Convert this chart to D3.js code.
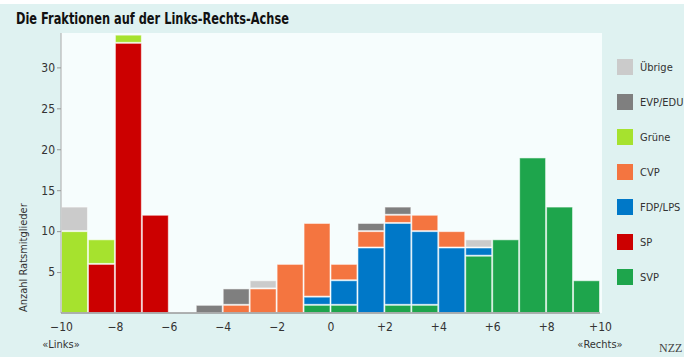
<!DOCTYPE html>
<html><head><meta charset="utf-8">
<script src="https://cdn.jsdelivr.net/npm/d3@7"></script>
<style>
body{margin:0;background:#fff;}
svg{display:block;}
text{font-family:"Liberation Sans Narrow","DejaVu Sans Condensed","Roboto",sans-serif;}
</style></head><body>
<svg id="c" width="684" height="357"></svg>
<script>
const bins = [-10,-9,-8,-7,-6,-5,-4,-3,-2,-1,0,1,2,3,4,5,6,7,8,9];
const parties = ["SVP","SP","FDP/LPS","CVP","Grüne","EVP/EDU","Übrige"];
const legendOrder = ["Übrige","EVP/EDU","Grüne","CVP","FDP/LPS","SP","SVP"];
const colors = ["#1ea54c","#cc0000","#0078c8","#f47540","#a6e22e","#7f7f7f","#cbcbcb"];
const svp    = [0,0,0,0,0,0,0,0,0,1,1,0,1,1,0,7,9,19,13,4];
const sp     = [0,6,33,12,0,0,0,0,0,0,0,0,0,0,0,0,0,0,0,0];
const fdp    = [0,0,0,0,0,0,0,0,0,1,3,8,10,9,8,1,0,0,0,0];
const cvp    = [0,0,0,0,0,0,1,3,6,9,2,2,1,2,2,0,0,0,0,0];
const gruene = [10,3,1,0,0,0,0,0,0,0,0,0,0,0,0,0,0,0,0,0];
const evp    = [0,0,0,0,0,1,2,0,0,0,0,1,1,0,0,0,0,0,0,0];
const uebrige= [3,0,0,0,0,0,0,1,0,0,0,0,0,0,0,1,0,0,0,0];
const seriesValues = [svp,sp,fdp,cvp,gruene,evp,uebrige];
const xTicks = [-10,-8,-6,-4,-2,0,2,4,6,8,10];
const yTicks = [5,10,15,20,25,30];
const title = "Die Fraktionen auf der Links-Rechts-Achse";
const yTitle = "Anzahl Ratsmitglieder";

const svg = d3.select("#c");
svg.append("rect").attr("width",684).attr("height",357).attr("fill","#dff2f1");
svg.append("rect").attr("x",0).attr("y",0).attr("width",684).attr("height",4).attr("fill","#fff");

const x = d3.scaleLinear().domain([-10,10]).range([61,600]);
const y = d3.scaleLinear().domain([0,34.2]).range([313,33]);

svg.append("rect").attr("x",61).attr("y",33).attr("width",541).attr("height",280).attr("fill","#f6fdfd");

svg.append("text").attr("x",16).attr("y",24).attr("font-size",15.5).attr("font-weight","bold")
  .attr("textLength",273).attr("lengthAdjust","spacingAndGlyphs")
  .attr("fill","#111").text(title);

const table = bins.map((b,i)=>{const o={bin:b}; parties.forEach((p,k)=>o[p]=seriesValues[k][i]); return o;});
const stack = d3.stack().keys(parties)(table);
const color = d3.scaleOrdinal().domain(parties).range(colors);

svg.append("g").selectAll("g").data(stack).join("g").attr("fill",d=>color(d.key))
  .selectAll("rect").data(d=>d.filter(e=>e[1]-e[0]>0)).join("rect")
  .attr("x",d=>x(d.data.bin)+0.5).attr("width",d=>x(d.data.bin+1)-x(d.data.bin)-1)
  .attr("y",d=>y(d[1])+0.5).attr("height",d=>y(d[0])-y(d[1])-1)
  .attr("stroke","rgba(255,255,255,0.55)").attr("stroke-width",1);

// y axis
const ya = svg.append("g").attr("transform","translate(61,0)")
  .call(d3.axisLeft(y).tickValues(yTicks).tickSize(4).tickPadding(2).tickFormat(d3.format("d")));
ya.select(".domain").attr("stroke","#aaa").attr("d","M0,33V313");
ya.selectAll(".tick line").attr("stroke","#999");
ya.selectAll("text").attr("font-size",12).attr("fill","#333").attr("font-family",null);

// x axis
const xa = svg.append("g").attr("transform","translate(0,313)")
  .call(d3.axisBottom(x).tickValues(xTicks).tickSize(0).tickPadding(9)
    .tickFormat(d=>d>0?"+"+d:(d<0?"\u2212"+(-d):"0")));
xa.select(".domain").attr("stroke","#999").attr("stroke-width",1.5).attr("d","M61,0H600");
xa.selectAll("text").attr("font-size",12).attr("fill","#333").attr("font-family",null);

svg.append("text").attr("x",x(-10)).attr("y",348).attr("text-anchor","middle").attr("font-size",11).attr("fill","#333").text("«Links»");
svg.append("text").attr("x",x(10)).attr("y",348).attr("text-anchor","middle").attr("font-size",11).attr("fill","#333").text("«Rechts»");
svg.append("text").attr("x",659).attr("y",352).attr("font-size",12).attr("fill","#444")
  .style("font-family","'Liberation Serif','DejaVu Serif',serif").text("NZZ");

svg.append("text").attr("transform","translate(27,312) rotate(-90)").attr("font-size",11).attr("fill","#333").text(yTitle);

// legend
const lg = svg.append("g").selectAll("g").data(legendOrder).join("g")
  .attr("transform",(d,i)=>`translate(617,${59+i*35})`);
lg.append("rect").attr("width",16).attr("height",16).attr("fill",d=>color(d));
lg.append("text").attr("x",23).attr("y",12).attr("font-size",11).attr("fill","#333").text(d=>d);
</script>
</body></html>
